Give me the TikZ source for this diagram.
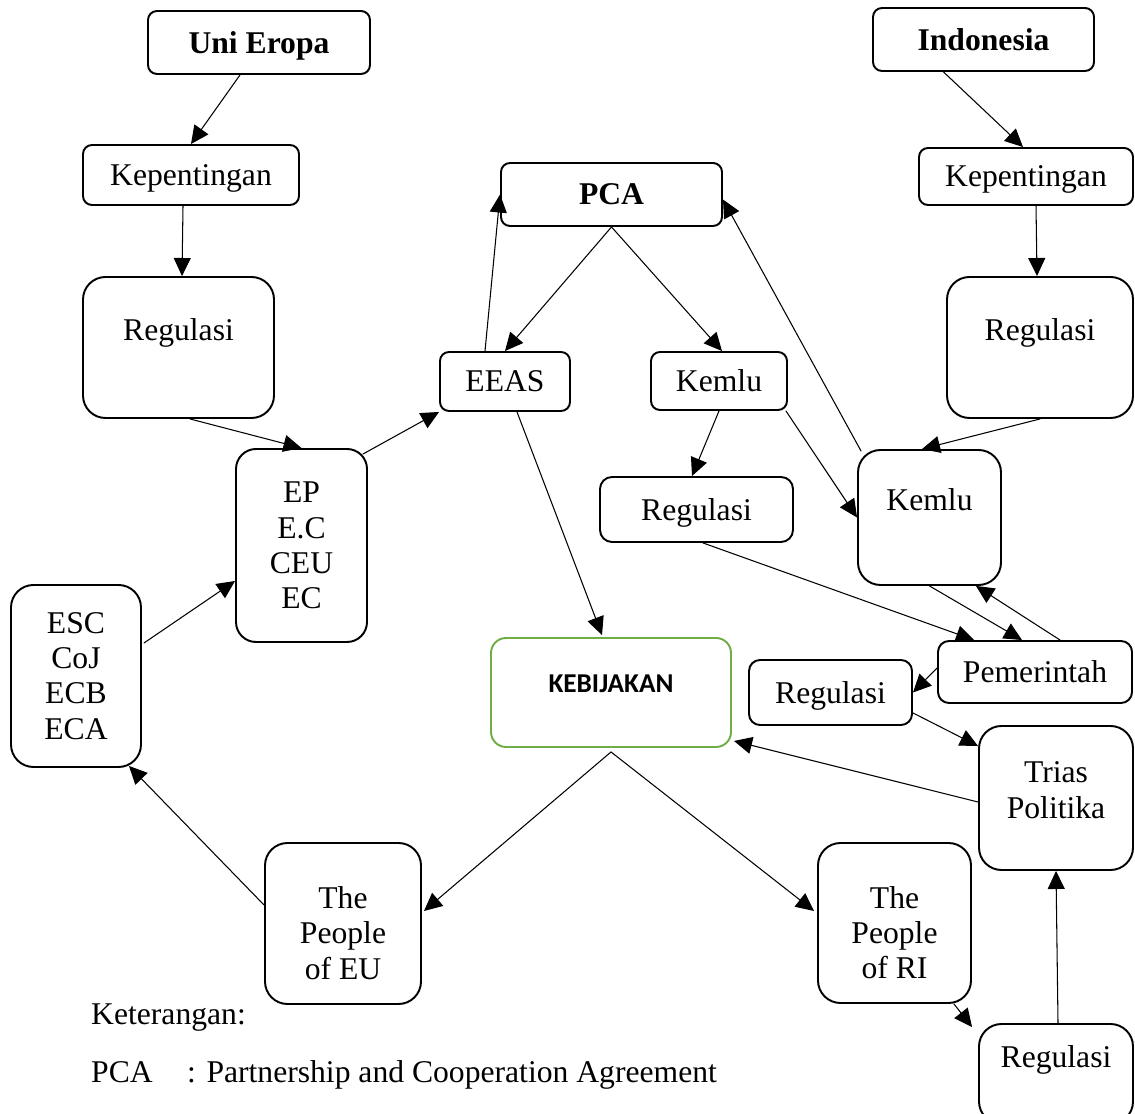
\documentclass[tikz,border=0pt]{standalone}
\usepackage{fontspec}
\setmainfont{Liberation Serif}
\newfontfamily\kebfont{Carlito}
\usetikzlibrary{calc,arrows.meta}
\definecolor{kebgreen}{HTML}{70AD47}
\newcommand{\diagfont}{\fontsize{18}{20}\selectfont}

\begin{document}
\begin{tikzpicture}[line cap=round,line join=round,
  box/.style={draw,line width=1.1pt,rounded corners=0.18cm,inner sep=0pt,align=center,font=\diagfont},
  sbox/.style={box,text depth=0pt},
  tallbox/.style={box,rounded corners=0.45cm},
  wh/.style 2 args={minimum width=#1cm,minimum height=#2cm},
  upper/.style={text depth=0.71cm},
  arr/.style={line width=0.6pt,-{Triangle[length=3.6mm,width=3.4mm]}}]
  \useasboundingbox (0,0) rectangle (22.7,22.26);
  % sisi Uni Eropa
  \node[sbox,wh={4.44}{1.26}] (ue) at (5.18,21.41) {\textbf{Uni Eropa}};
  \node[sbox,wh={4.32}{1.2}] (kepL) at (3.82,18.76) {Kepentingan};
  \node[tallbox,upper,wh={3.82}{2.82}] (regL) at (3.57,15.31) {Regulasi};
  \node[tallbox,rounded corners=0.4cm,wh={2.62}{3.86}] (ep) at (6.03,11.35) {EP\\E.C\\CEU\\EC};
  \node[tallbox,wh={2.6}{3.64}] (esc) at (1.52,8.74) {ESC\\CoJ\\ECB\\ECA};
  \node[tallbox,text height=2.23cm,wh={3.12}{3.22}] (peopleEU) at (6.86,3.79) {The\\People\\of EU};
  % tengah
  \node[sbox,wh={4.42}{1.26}] (pca) at (12.23,18.37) {\textbf{PCA}};
  \node[sbox,wh={2.6}{1.18}] (eeas) at (10.1,14.63) {EEAS};
  \node[sbox,wh={2.72}{1.16}] (kemluA) at (14.38,14.64) {Kemlu};
  \node[sbox,rounded corners=0.24cm,wh={3.86}{1.3}] (regA) at (13.93,12.07) {Regulasi};
  \node[box,draw=kebgreen,rounded corners=0.3cm,text depth=0.34cm,wh={4.8}{2.18},font=\kebfont\fontsize{15.5}{18}\selectfont\bfseries] (keb) at (12.22,8.41) {KEBIJAKAN};
  \coordinate (kebfoot) at ($(keb.south)+(0,-0.08)$);
  % sisi Indonesia
  \node[sbox,wh={4.42}{1.26}] (ind) at (19.67,21.47) {\textbf{Indonesia}};
  \node[sbox,wh={4.28}{1.14}] (kepR) at (20.52,18.73) {Kepentingan};
  \node[tallbox,upper,wh={3.72}{2.82}] (regR) at (20.8,15.31) {Regulasi};
  \node[tallbox,upper,wh={2.86}{2.7}] (kemluB) at (18.59,11.91) {Kemlu};
  \node[sbox,rounded corners=0.22cm,wh={3.88}{1.24}] (pem) at (20.7,8.82) {Pemerintah};
  \node[sbox,rounded corners=0.22cm,wh={3.26}{1.3}] (regB) at (16.61,8.41) {Regulasi};
  \node[tallbox,text depth=0.32cm,wh={3.08}{2.88}] (trias) at (21.12,6.3) {Trias\\Politika};
  \node[tallbox,text height=2.23cm,wh={3.06}{3.2}] (peopleRI) at (17.89,3.8) {The\\People\\of RI};
  \node[tallbox,upper,wh={3.08}{2.0}] (regC) at (21.12,0.78) {Regulasi};
  % keterangan
  \node[anchor=base west,font=\diagfont] (ket) at (1.7,1.78) {Keterangan:};
  \node[anchor=base west,font=\diagfont] (ketpca) at (1.7,0.62) {\makebox[1.92cm][l]{PCA}: Partnership and Cooperation Agreement};
  % panah sisi Uni Eropa
  \draw[arr] ($(ue.south)+(-0.38,0)$) -- (kepL.north);
  \draw[arr] ($(kepL.south)+(-0.16,0)$) -- ($(regL.north)+(0.07,0)$);
  \draw[arr] ($(regL.south)+(0.23,0)$) -- (ep.north);
  \draw[arr] ($(ep.north east)+(-0.1,-0.12)$) -- (eeas.south west);
  \draw[arr] ($(esc.east)+(0.04,0.66)$) -- ($(ep.west)+(0,-0.71)$);
  \draw[arr] ($(peopleEU.west)+(0,0.37)$) -- ($(esc.south east)+(-0.26,0.04)$);
  % panah tengah
  \draw[arr] ($(eeas.north)+(-0.4,0)$) -- (pca.west);
  \draw[arr] (pca.south) -- (eeas.north);
  \draw[arr] (pca.south) -- ($(kemluA.north)+(0.06,0)$);
  \draw[arr] (kemluA.south) -- ($(regA.north)+(-0.09,0)$);
  \draw[arr] ($(eeas.south)+(0.24,0)$) -- ($(keb.north)+(-0.18,0.04)$);
  \draw[arr] (kebfoot) -- ($(peopleEU.east)+(0.04,0.25)$);
  \draw[arr] (kebfoot) -- ($(peopleRI.west)+(-0.06,0.24)$);
  % panah sisi Indonesia
  \draw[arr] ($(ind.south)+(-0.8,0)$) -- ($(kepR.north)+(-0.06,0)$);
  \draw[arr] ($(kepR.south)+(0.2,0)$) -- ($(regR.north)+(-0.06,0)$);
  \draw[arr] (regR.south) -- ($(kemluB.north)+(-0.15,0)$);
  \draw[arr] ($(kemluB.north west)+(0.08,-0.04)$) -- ($(pca.east)+(0,-0.1)$);
  \draw[arr] ($(kemluA.south east)+(-0.04,0)$) -- (kemluB.west);
  \draw[arr] ($(regA.south)+(0.13,0)$) -- ($(pem.north west)+(0.74,0)$);
  \draw[arr] (kemluB.south) -- ($(pem.north)+(-0.26,0)$);
  \draw[arr] ($(pem.north)+(0.5,0)$) -- ($(kemluB.south east)+(-0.52,0)$);
  \draw[arr] ($(pem.west)+(0,0.08)$) -- (regB.east);
  \draw[arr] ($(regB.south east)+(0,0.26)$) -- ($(trias.north west)+(0,-0.42)$);
  \draw[arr] ($(trias.west)+(0,-0.08)$) -- ($(keb.south east)+(0.04,0.14)$);
  \draw[arr] ($(peopleRI.south east)+(-0.36,0)$) -- ($(regC.north west)+(-0.12,-0.08)$);
  \draw[arr] ($(regC.north)+(0.04,0)$) -- (trias.south);
\end{tikzpicture}
\end{document}
